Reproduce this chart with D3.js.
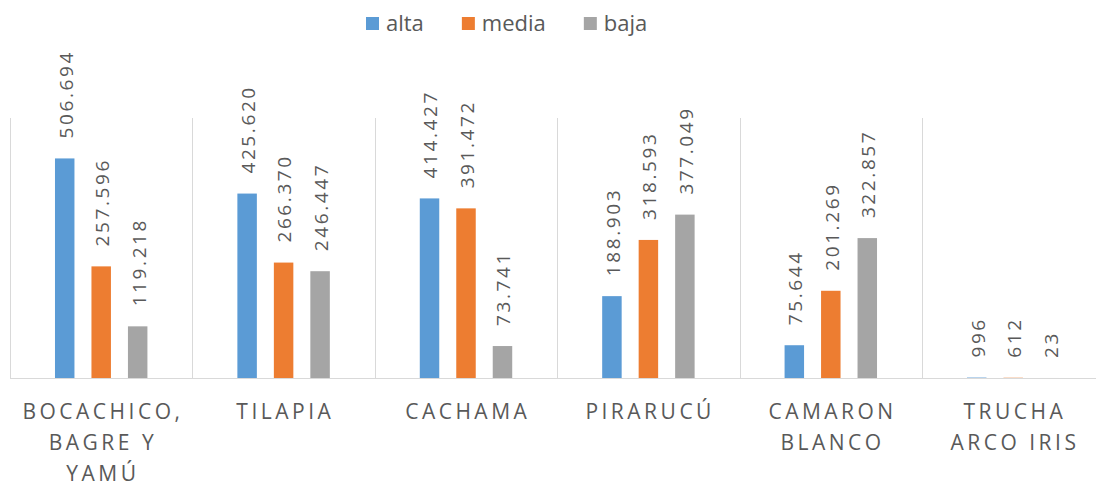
<!DOCTYPE html>
<html>
<head>
<meta charset="utf-8">
<script src="https://cdn.jsdelivr.net/npm/d3@7/dist/d3.min.js"></script>
<style>
  body { margin: 0; background: #fff; }
  text { font-family: "Open Sans", sans-serif; fill: #595959; }
</style>
</head>
<body>
<div class="chart"></div>
<script>
// chart data
var categories = [
  ["BOCACHICO,", "BAGRE Y", "YAMÚ"],
  ["TILAPIA"],
  ["CACHAMA"],
  ["PIRARUCÚ"],
  ["CAMARON", "BLANCO"],
  ["TRUCHA", "ARCO IRIS"]
];
var seriesNames = ["alta", "media", "baja"];
var colors = ["#5b9bd5", "#ed7d31", "#a5a5a5"];
var alta = [506694, 425620, 414427, 188903, 75644, 996];
var media = [257596, 266370, 391472, 318593, 201269, 612];
var baja = [119218, 246447, 73741, 377049, 322857, 23];
var yMax = 600000;

var svgWidth = 1096;
var svgHeight = 487;

var plot = { left: 10, top: 118, bottom: 378, step: 182.4 };

var svg = d3.select(".chart")
  .append("svg")
  .attr("width", svgWidth)
  .attr("height", svgHeight);

var seriesValues = [alta, media, baja];
var keys = categories.map(function(c) { return c.join(" "); });

// scales
var x0 = d3.scaleBand()
  .domain(keys)
  .range([plot.left, plot.left + plot.step * keys.length])
  .paddingInner(0)
  .paddingOuter(0);

var x1 = d3.scaleBand()
  .domain(seriesNames)
  .range([0, x0.bandwidth()])
  .paddingInner(0.466)
  .paddingOuter(1.233);

var y = d3.scaleLinear().domain([0, yMax]).range([plot.bottom, plot.top]);

var fmt = d3.formatLocale({ decimal: ",", thousands: ".", grouping: [3], currency: ["", ""] }).format(",d");

// vertical gridlines at category boundaries
svg.append("g")
  .selectAll("line")
  .data(keys)
  .enter()
  .append("line")
  .attr("x1", function(d) { return Math.round(x0(d)) + 0.5; })
  .attr("x2", function(d) { return Math.round(x0(d)) + 0.5; })
  .attr("y1", y(yMax))
  .attr("y2", y(0))
  .attr("stroke", "#d9d9d9")
  .attr("stroke-width", 1);

// bars
var groups = svg.append("g")
  .selectAll("g")
  .data(keys)
  .enter()
  .append("g")
  .attr("transform", function(d) { return "translate(" + x0(d) + ",0)"; });

groups.selectAll("rect")
  .data(function(d, i) {
    return seriesNames.map(function(s, j) { return { s: s, v: seriesValues[j][i], c: colors[j] }; });
  })
  .enter()
  .append("rect")
  .attr("x", function(d) { return x1(d.s); })
  .attr("width", x1.bandwidth())
  .attr("y", function(d) { return y(d.v); })
  .attr("height", function(d) { return y(0) - y(d.v); })
  .attr("fill", function(d) { return d.c; });

// value labels, rotated
groups.selectAll("text")
  .data(function(d, i) {
    return seriesNames.map(function(s, j) { return { s: s, v: seriesValues[j][i] }; });
  })
  .enter()
  .append("text")
  .attr("transform", function(d) {
    var cx = x1(d.s) + x1.bandwidth() / 2 + 1;
    return "translate(" + cx + "," + (y(d.v) - 20) + ") rotate(-90)";
  })
  .attr("dy", "0.36em")
  .style("font-size", "19px")
  .style("letter-spacing", "2.6px")
  .text(function(d) { return fmt(d.v); });

// baseline
svg.append("line")
  .attr("x1", plot.left)
  .attr("x2", svgWidth)
  .attr("y1", y(0) + 0.5)
  .attr("y2", y(0) + 0.5)
  .attr("stroke", "#d9d9d9")
  .attr("stroke-width", 1);

// category labels
var catSpacing = 3.5;
svg.append("g")
  .selectAll("text")
  .data(categories)
  .enter()
  .append("text")
  .attr("text-anchor", "middle")
  .style("font-size", "21px")
  .style("letter-spacing", catSpacing + "px")
  .each(function(lines, i) {
    var t = d3.select(this);
    var cx = x0(keys[i]) + x0.bandwidth() / 2 + catSpacing / 2;
    lines.forEach(function(line, k) {
      t.append("tspan")
        .attr("x", cx)
        .attr("y", 419 + k * 31)
        .text(line);
    });
  });

// legend
var legend = svg.append("g").attr("transform", "translate(366,0)");
var lx = 0;
seriesNames.forEach(function(s, j) {
  var item = legend.append("g").attr("transform", "translate(" + lx + ",0)");
  item.append("rect")
    .attr("x", 0)
    .attr("y", 17)
    .attr("width", 13)
    .attr("height", 13)
    .attr("fill", colors[j]);
  var t = item.append("text")
    .attr("x", 20)
    .attr("y", 31)
    .style("font-size", "22px")
    .text(s);
  lx += 20 + t.node().getComputedTextLength() + 38;
});
</script>
</body>
</html>
